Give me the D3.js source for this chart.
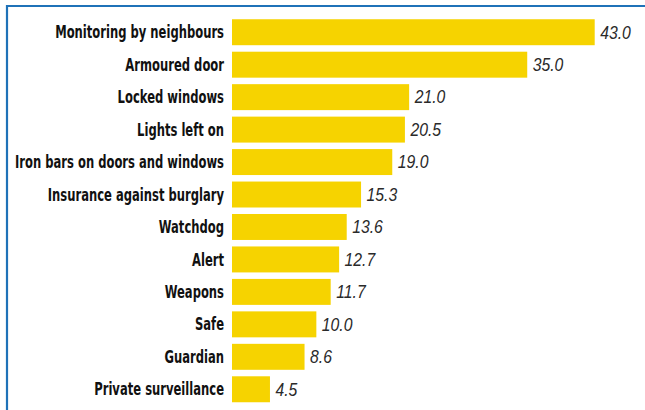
<!DOCTYPE html>
<html>
<head>
<meta charset="utf-8">
<script src="https://cdn.jsdelivr.net/npm/d3@7"></script>
<style>
  body { margin: 0; background: #fff; }
  svg { display: block; }
</style>
</head>
<body>
<div id="chart"></div>
<script>
const categories = [
  'Monitoring by neighbours', 'Armoured door', 'Locked windows', 'Lights left on',
  'Iron bars on doors and windows', 'Insurance against burglary', 'Watchdog', 'Alert',
  'Weapons', 'Safe', 'Guardian', 'Private surveillance'
]
const values = [43.0, 35.0, 21.0, 20.5, 19.0, 15.3, 13.6, 12.7, 11.7, 10.0, 8.6, 4.5]

const width = 645
const height = 410
const svg = d3.select('#chart').append('svg')
  .attr('width', width)
  .attr('height', height)

// frame
svg.append('path')
  .attr('d', `M7,${height} V6 H${width}`)
  .attr('fill', 'none')
  .attr('stroke', '#1f72b8')
  .attr('stroke-width', 2.2)

const x = d3.scaleLinear().domain([0, 43]).range([232, 594.7])
const y = d3.scaleBand().domain(categories).range([16, 405.5]).paddingInner(0.2).paddingOuter(0.1)

svg.selectAll('rect.bar')
  .data(values)
  .join('rect')
  .attr('class', 'bar')
  .attr('x', x(0))
  .attr('y', (d, i) => y(categories[i]))
  .attr('width', d => x(d) - x(0))
  .attr('height', y.bandwidth())
  .attr('fill', '#f6d300')

// condensed bold labels: squeeze horizontally to mimic a narrow face
const labels = svg.selectAll('text.cat')
  .data(categories)
  .join('text')
  .attr('class', 'cat')
  .attr('text-anchor', 'end')
  .style('font-family', '"DejaVu Sans", sans-serif')
  .style('font-weight', 'bold')
  .style('font-size', '17px')
  .attr('fill', '#111')
  .text(d => d)

const refWidth = labels.filter(d => d === 'Monitoring by neighbours').node().getComputedTextLength()
const sx = 169 / refWidth

labels.attr('transform', d => `translate(224,${y(d) + y.bandwidth() / 2}) scale(${sx},1)`)
  .attr('dy', '0.36em')

svg.selectAll('text.val')
  .data(values)
  .join('text')
  .attr('class', 'val')
  .attr('transform', (d, i) => `translate(${x(d) + 5.5},${y(categories[i]) + y.bandwidth() / 2}) scale(0.9,1)`)
  .attr('dy', '0.36em')
  .style('font-family', '"Liberation Sans", Arial, sans-serif')
  .style('font-style', 'italic')
  .style('font-size', '17.5px')
  .attr('fill', '#2a2a2a')
  .text(d => d.toFixed(1))
</script>
</body>
</html>
